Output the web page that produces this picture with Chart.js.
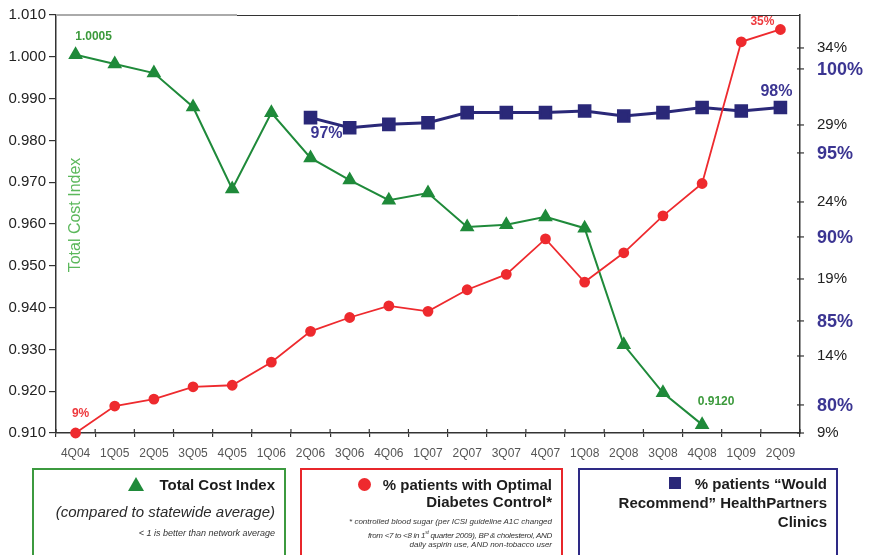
<!DOCTYPE html>
<html>
<head>
<meta charset="utf-8">
<script src="https://cdn.jsdelivr.net/npm/chart.js@4.4.1/dist/chart.umd.min.js"></script>
<style>
  html, body { margin: 0; padding: 0; background: #fff; }
  body { width: 871px; height: 555px; overflow: hidden; position: relative; font-family: "Liberation Sans", Arial, sans-serif; }
  #chart { position: absolute; left: 0; top: 0; }
  .box { position: absolute; top: 468px; height: 100px; box-sizing: border-box; border: 2px solid; }
  .ln { position: absolute; left: 0; right: 9px; text-align: right; white-space: nowrap; color: #1d1d1d; }
  .big { font-weight: bold; font-size: 15px; line-height: 18px; }
  .it { font-style: italic; font-size: 15px; line-height: 18px; color: #2a2a2a; }
  .small { font-style: italic; font-size: 8px; line-height: 11px; color: #333; }
  .tri { display: inline-block; width: 0; height: 0; border-left: 8px solid transparent; border-right: 8px solid transparent; border-bottom: 14px solid #1f8a3a; margin-right: 15px; vertical-align: -1px; }
  .dot { display: inline-block; width: 13px; height: 13px; border-radius: 50%; background: #ee2a2e; margin-right: 12px; vertical-align: -1px; }
  .sq { display: inline-block; width: 12px; height: 12px; background: #2a2878; margin-right: 14px; vertical-align: 0px; }
</style>
</head>
<body>
<canvas id="chart" width="871" height="555"></canvas>

<div class="box" style="left:32px; width:254px; border-color:#3c9a3f;">
  <div class="ln big" style="top:6px;"><span class="tri"></span>Total Cost Index</div>
  <div class="ln it" style="top:33px;">(compared to statewide average)</div>
  <div class="ln small" style="top:58px; font-size:9px;">&lt; 1 is better than network average</div>
</div>
<div class="box" style="left:300px; width:263px; border-color:#e8262b;">
  <div class="ln big" style="top:6px;"><span class="dot"></span>% patients with Optimal</div>
  <div class="ln big" style="top:23px;">Diabetes Control*</div>
  <div class="ln small" style="top:46px;">* controlled blood sugar (per ICSI guideline A1C changed</div>
  <div class="ln small" style="top:57px; letter-spacing:-0.3px;">from &lt;7 to &lt;8 in 1<sup style="font-size:5px">st</sup> quarter 2009), BP &amp; cholesterol, AND</div>
  <div class="ln small" style="top:69px;">daily aspirin use, AND non-tobacco user</div>
</div>
<div class="box" style="left:578px; width:260px; border-color:#2e2a85;">
  <div class="ln big" style="top:5px;"><span class="sq"></span>% patients “Would</div>
  <div class="ln big" style="top:24px;">Recommend” HealthPartners</div>
  <div class="ln big" style="top:43px;">Clinics</div>
</div>

<script>
// === data ===
const quarters = ["4Q04", "1Q05", "2Q05", "3Q05", "4Q05", "1Q06", "2Q06", "3Q06", "4Q06", "1Q07",
    "2Q07", "3Q07", "4Q07", "1Q08", "2Q08", "3Q08", "4Q08", "1Q09", "2Q09"];

const costIndex = [1.0005, 0.9983, 0.9961, 0.9880, 0.9684, 0.9866, 0.9758, 0.9705, 0.9657, 0.9674,
    0.9593, 0.9598, 0.9617, 0.9590, 0.9311, 0.9196, 0.9120, null, null];

const diabetesPct = [9.0, 10.75, 11.2, 12.0, 12.1, 13.6, 15.6, 16.5, 17.25, 16.9,
    18.3, 19.3, 21.6, 18.8, 20.7, 23.1, 25.2, 34.4, 35.2];

const recommendPct = [null, null, null, null, null, null, 97.1, 96.5, 96.7, 96.8,
    97.4, 97.4, 97.4, 97.5, 97.2, 97.4, 97.7, 97.5, 97.7];

const costTicks = [0.91, 0.92, 0.93, 0.94, 0.95, 0.96, 0.97, 0.98, 0.99, 1.00, 1.01];
const diabetesTicks = [9, 14, 19, 24, 29, 34];
const recommendTicks = [80, 85, 90, 95, 100];

// value labels: [dataset, point index, text]
const valueLabels = [
    [0, 0, "1.0005"],
    [0, 16, "0.9120"],
    [1, 0, "9%"],
    [1, 18, "35%"],
    [2, 6, "97%"],
    [2, 18, "98%"],
];

// === colors ===
const GREEN = "#1f8a3a";
const RED = "#ee2a2e";
const BLUE = "#2a2878";
const AXIS = "#333";

// offsets / fonts for the value labels (same order as valueLabels)
const labelStyle = [
    { dx: 18, dy: -18, font: "bold 12px 'Liberation Sans'", color: "#3c9a3c" },
    { dx: 14, dy: -23, font: "bold 12px 'Liberation Sans'", color: "#3c9a3c" },
    { dx: 5, dy: -19, font: "bold 12px 'Liberation Sans'", color: "#ee3a3e" },
    { dx: -18, dy: -8, font: "bold 12px 'Liberation Sans'", color: "#ee3a3e" },
    { dx: 16, dy: 16, font: "bold 16px 'Liberation Sans'", color: "#3b3592" },
    { dx: -4, dy: -16, font: "bold 16px 'Liberation Sans'", color: "#3b3592" },
];

function line(ctx, x1, y1, x2, y2) {
    ctx.beginPath();
    ctx.moveTo(x1, y1);
    ctx.lineTo(x2, y2);
    ctx.stroke();
}

const extras = {
    id: "extras",
    afterDraw(chart) {
        const { ctx, chartArea: a, scales } = chart;
        ctx.save();

        // top frame
        ctx.strokeStyle = "#aaa";
        ctx.lineWidth = 2;
        line(ctx, a.left, a.top, 237, a.top);
        ctx.strokeStyle = AXIS;
        ctx.lineWidth = 1;
        line(ctx, 237, a.top + 0.5, a.right, a.top + 0.5);

        // x tick marks reaching into the plot
        const x0 = scales.x.getPixelForValue(0);
        const step = scales.x.getPixelForValue(1) - x0;
        ctx.lineWidth = 1.2;
        for (let i = 0; i <= quarters.length; i++) {
            const x = x0 - step / 2 + i * step;
            line(ctx, x, a.bottom - 4, x, a.bottom);
        }

        // right axis ticks, crossing the axis line
        diabetesTicks.forEach(v => {
            const y = scales.yRate.getPixelForValue(v);
            line(ctx, a.right - 3, y, a.right + 4, y);
        });

        // second right scale (patients recommend)
        ctx.font = "bold 18px 'Liberation Sans'";
        ctx.fillStyle = "#3b3592";
        ctx.textAlign = "left";
        ctx.textBaseline = "middle";
        recommendTicks.forEach(v => {
            const y = scales.yRec.getPixelForValue(v);
            ctx.strokeStyle = AXIS;
            line(ctx, a.right - 3, y, a.right + 4, y);
            ctx.fillText(v + "%", a.right + 17, y + 1);
        });

        // axis title sitting inside the plot
        ctx.save();
        ctx.translate(a.left + 20, 215);
        ctx.rotate(-Math.PI / 2);
        ctx.font = "16px 'Liberation Sans'";
        ctx.fillStyle = "#5cb85c";
        ctx.textAlign = "center";
        ctx.fillText("Total Cost Index", 0, 0);
        ctx.restore();

        // value labels
        ctx.textAlign = "center";
        ctx.textBaseline = "middle";
        valueLabels.forEach(([ds, idx, text], i) => {
            const pt = chart.getDatasetMeta(ds).data[idx];
            const s = labelStyle[i];
            ctx.font = s.font;
            ctx.fillStyle = s.color;
            ctx.fillText(text, pt.x + s.dx, pt.y + s.dy);
        });

        ctx.restore();
    }
};

const ctx = document.getElementById("chart").getContext("2d");
const chart = new Chart(ctx, {
    type: "line",
    data: {
        labels: quarters,
        datasets: [
            {
                label: "Total Cost Index",
                data: costIndex,
                yAxisID: "y",
                borderColor: GREEN,
                backgroundColor: GREEN,
                borderWidth: 2,
                pointStyle: "triangle",
                pointRadius: 6.5,
                order: 2,
            },
            {
                label: "% patients with Optimal Diabetes Control",
                data: diabetesPct,
                yAxisID: "yRate",
                borderColor: RED,
                backgroundColor: RED,
                borderWidth: 1.8,
                pointStyle: "circle",
                pointRadius: 4.5,
                order: 1,
            },
            {
                label: "% patients \"Would Recommend\" HealthPartners Clinics",
                data: recommendPct,
                yAxisID: "yRec",
                borderColor: BLUE,
                backgroundColor: BLUE,
                borderWidth: 3,
                pointStyle: "rect",
                pointRadius: 7.5,
                order: 3,
            },
        ]
    },
    options: {
        responsive: false,
        animation: false,
        clip: false,
        layout: { autoPadding: false, padding: { top: 15, bottom: 92, left: 0, right: 0 } },
        plugins: {
            legend: { display: false },
            tooltip: { enabled: false },
        },
        scales: {
            x: {
                type: "category",
                offset: true,
                afterFit: s => { s.height = 30; },
                grid: { display: true, drawOnChartArea: false, offset: true, tickLength: 4, color: AXIS, lineWidth: 1.2 },
                border: { display: true, color: AXIS, width: 1.5 },
                ticks: { color: "#555", font: { family: "Liberation Sans", size: 12 }, padding: 9, maxRotation: 0, autoSkip: false },
            },
            y: {
                position: "left",
                min: 0.91,
                max: 1.01,
                afterFit: s => { s.width = 56; },
                afterBuildTicks: s => { s.ticks = costTicks.map(v => ({ value: v })); },
                grid: { display: true, drawOnChartArea: false, tickLength: 7, color: AXIS, lineWidth: 1.2 },
                border: { display: true, color: AXIS, width: 1.5 },
                ticks: {
                    color: "#222",
                    font: { family: "Liberation Sans", size: 15 },
                    padding: 3,
                    callback: v => Number(v).toFixed(3),
                },
            },
            yRate: {
                position: "right",
                min: 9,
                max: 36.14,
                afterFit: s => { s.width = 71; },
                afterBuildTicks: s => { s.ticks = diabetesTicks.map(v => ({ value: v })); },
                grid: { display: true, drawOnChartArea: false, tickLength: 17, color: "rgba(0,0,0,0)" },
                border: { display: true, color: AXIS, width: 1.5 },
                ticks: {
                    color: "#222",
                    font: { family: "Liberation Sans", size: 15 },
                    padding: 0,
                    callback: v => v + "%",
                },
            },
            yRec: {
                position: "right",
                display: false,
                min: 78.33,
                max: 103.21,
            },
        }
    },
    plugins: [extras],
});
</script>
</body>
</html>
